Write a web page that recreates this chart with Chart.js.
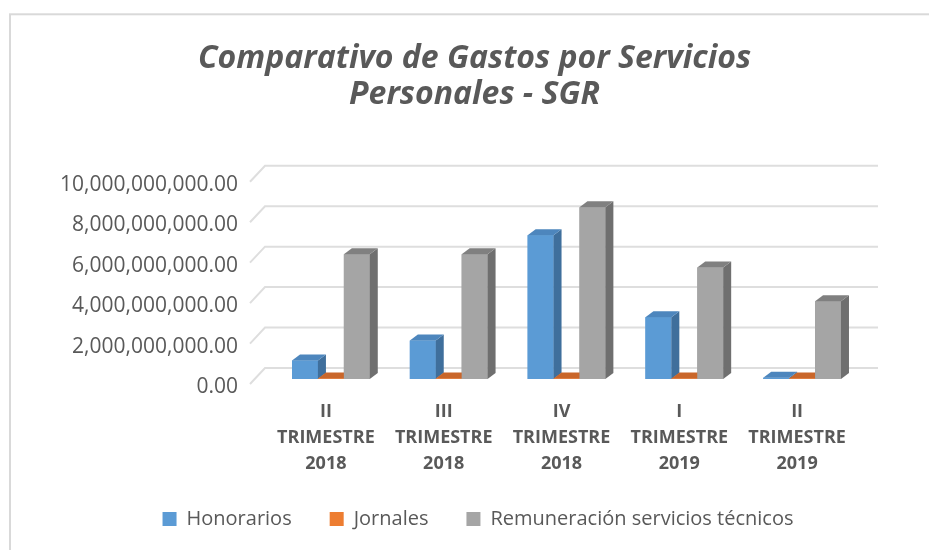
<!DOCTYPE html>
<html>
<head>
<meta charset="utf-8">
<script src="https://cdn.jsdelivr.net/npm/chart.js@4.4.1/dist/chart.umd.min.js"></script>
<style>
  html, body { margin: 0; padding: 0; background: #fff; }
  #wrap { position: relative; width: 929px; height: 550px; }
</style>
</head>
<body>
<div id="wrap"><canvas id="gastos"></canvas></div>
<script>
// data
const categories = [
  ["II", "TRIMESTRE", "2018"],
  ["III", "TRIMESTRE", "2018"],
  ["IV", "TRIMESTRE", "2018"],
  ["I", "TRIMESTRE", "2019"],
  ["II", "TRIMESTRE", "2019"]
];
const seriesNames = ["Honorarios", "Jornales", "Remuneración servicios técnicos"];
const honorarios = [910000000, 1900000000, 7110000000, 3060000000, 60000000];
const jornales = [30000000, 30000000, 30000000, 30000000, 30000000];
const remuneracion = [6170000000, 6170000000, 8490000000, 5510000000, 3850000000];
const yTicks = [0, 2000000000, 4000000000, 6000000000, 8000000000, 10000000000];

const txt = "#595959";
const font = "'Open Sans', 'DejaVu Sans', sans-serif";
// front, side, top colours per series
const faces = [
  ["#5b9bd5", "#3f6f9c", "#4d86bd"],
  ["#ed7d31", "#ae5a22", "#c9662a"],
  ["#a5a5a5", "#6f6f6f", "#808080"]
];
const dx = 8, dy = -6;

const fmt = new Intl.NumberFormat("en-US", {minimumFractionDigits: 2, maximumFractionDigits: 2});

// frame, back wall grid and 3d faces of the columns
const wallPlugin = {
  id: "wall",
  afterLayout(chart) {
    // title and legend are centred on the whole frame, not on the plot
    const centre = (box, c) => {
      const d = c - (box.left + box.right) / 2;
      box.left += d; box.right += d;
    };
    centre(chart.titleBlock, 474.5);
    centre(chart.legend, 478);
  },
  beforeDraw(chart) {
    const ctx = chart.ctx;
    ctx.save();
    ctx.strokeStyle = "#d9d9d9";
    ctx.lineWidth = 2;
    ctx.strokeRect(10, 14.3, 1000, 1000);
    ctx.restore();
  },
  beforeDatasetsDraw(chart) {
    const ctx = chart.ctx, a = chart.chartArea, y = chart.scales.y;
    ctx.save();
    ctx.strokeStyle = "#dedede";
    ctx.lineWidth = 2;
    yTicks.forEach(v => {
      const p = y.getPixelForValue(v);
      ctx.beginPath();
      ctx.moveTo(a.left - 22, p + 5);
      ctx.lineTo(a.left - 7, p - 11);
      ctx.lineTo(a.right + 17, p - 11);
      ctx.stroke();
    });
    ctx.restore();
  },
  afterDatasetsDraw(chart) {
    const ctx = chart.ctx;
    const metas = chart.data.datasets.map((d, i) => chart.getDatasetMeta(i));
    ctx.save();
    for (let j = 0; j < categories.length; j++) {
      metas.forEach((meta, i) => {
        const b = meta.data[j].getProps(["x", "y", "base", "width"], true);
        const l = b.x - b.width / 2, r = b.x + b.width / 2;
        ctx.fillStyle = faces[i][0];
        ctx.fillRect(l, b.y, b.width, b.base - b.y);
        ctx.fillStyle = faces[i][1];
        ctx.beginPath();
        ctx.moveTo(r, b.y); ctx.lineTo(r + dx, b.y + dy);
        ctx.lineTo(r + dx, b.base + dy); ctx.lineTo(r, b.base);
        ctx.closePath(); ctx.fill();
        ctx.fillStyle = faces[i][2];
        ctx.beginPath();
        ctx.moveTo(l, b.y); ctx.lineTo(l + dx, b.y + dy);
        ctx.lineTo(r + dx, b.y + dy); ctx.lineTo(r, b.y);
        ctx.closePath(); ctx.fill();
      });
    }
    ctx.restore();
  }
};

new Chart(document.getElementById("gastos").getContext("2d"), {
  type: "bar",
  data: {
    labels: categories,
    datasets: [
      {label: seriesNames[0], data: honorarios, backgroundColor: faces[0][0]},
      {label: seriesNames[1], data: jornales, backgroundColor: faces[1][0]},
      {label: seriesNames[2], data: remuneracion, backgroundColor: faces[2][0]}
    ]
  },
  options: {
    responsive: true,
    maintainAspectRatio: false,
    animation: false,
    categoryPercentage: 0.66,
    barPercentage: 1.0,
    layout: {padding: {left: 40, right: 68, top: 0, bottom: 11}},
    plugins: {
      tooltip: {enabled: false},
      title: {
        display: true,
        text: ["Comparativo de Gastos por Servicios", "Personales - SGR"],
        color: txt,
        font: {family: font, size: 32, weight: "bold", style: "italic", lineHeight: 36 / 32},
        padding: {top: 40.5, bottom: 64.3}
      },
      legend: {
        position: "bottom",
        labels: {
          color: txt,
          boxWidth: 14,
          boxHeight: 14,
          padding: 38,
          font: {family: font, size: 20}
        }
      }
    },
    scales: {
      x: {
        grid: {display: false, drawTicks: false},
        border: {display: false},
        ticks: {
          color: txt,
          padding: 20,
          labelOffset: -5,
          maxRotation: 0,
          autoSkip: false,
          font: {family: font, size: 18, weight: "bold", lineHeight: 26 / 18}
        },
        afterFit(s) { s.height = 92; }
      },
      y: {
        min: 0,
        max: 10000000000,
        grid: {display: false, drawTicks: false},
        border: {display: false},
        afterBuildTicks(s) { s.ticks = yTicks.map(v => ({value: v})); },
        ticks: {
          color: txt,
          padding: 34,
          labelOffset: 8,
          font: {family: font, size: 21},
          callback: v => fmt.format(v)
        },
        afterFit(s) { s.width = 232; }
      }
    }
  },
  plugins: [wallPlugin]
});
</script>
</body>
</html>
